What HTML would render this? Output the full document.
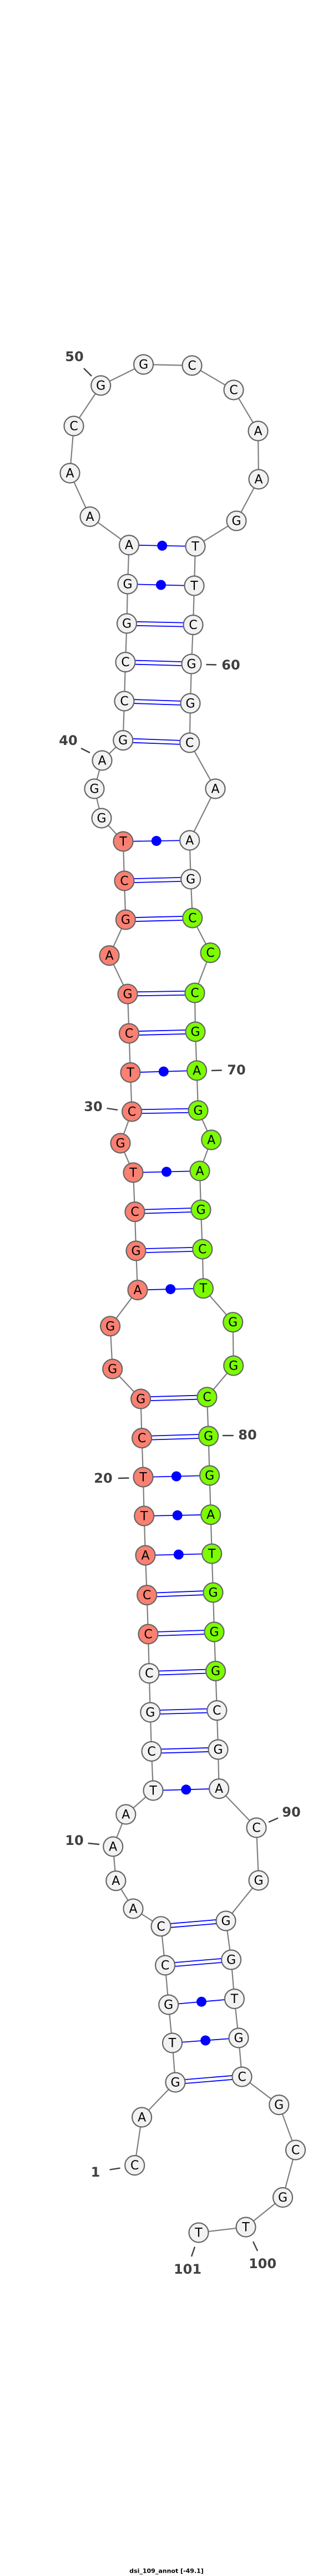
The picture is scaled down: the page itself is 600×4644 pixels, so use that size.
<!DOCTYPE html>
<html><head><meta charset="utf-8"><style>
html,body{margin:0;padding:0;background:#fff;}
svg{display:block;}
.b{stroke:#808080;stroke-width:2.2;fill:none}
.p{stroke:#0000ff;stroke-width:1.8;fill:none}
.d{fill:#0000ff}
.n circle{stroke:#666;stroke-width:2.2}
.w{fill:#f2f2f2}.r{fill:#fa8072}.g{fill:#7cfc00}
.n text{font-family:"DejaVu Sans","Liberation Sans",sans-serif;font-size:22px;fill:#000;text-anchor:middle;dominant-baseline:central}
.l{font-family:"DejaVu Sans","Liberation Sans",sans-serif;font-size:24px;font-weight:bold;fill:#404040;text-anchor:middle;dominant-baseline:central}
.t{stroke:#404040;stroke-width:2.4}
</style></head><body>
<svg width="600" height="4644" viewBox="0 0 600 4644" xmlns="http://www.w3.org/2000/svg">
<!-- backbone -->
<polyline class="b" points="242.7,3903.6 255.6,3817 316,3754 310.5,3683 303.7,3614 297.6,3543 290,3472.8 240,3441 208.8,3390.6 203.7,3329 226.8,3271 276,3228 273,3157.4 270.8,3087 268.8,3016.6 267,2946 264.7,2875.6 262,2804 259.7,2733 258,2663 255.6,2592.6 253.6,2522 202.7,2468 198.6,2390.8 248,2325.6 245,2255 243,2184.6 240,2114 217,2061 237.6,2004 235,1933.5 232.5,1863 230,1792 197,1722.6 226.4,1658 224,1588 222,1517 183,1475 170,1422 184,1371 221.7,1334.6 224,1264 226,1193.6 228.5,1124 230,1053 232.5,982.6 162,931.5 126,853 133,768 181.7,695 258.6,657 346,659 421,703 465,777 466,864 426,939 352,985 350,1056 348,1126.5 345,1197 343,1268 341.7,1339 388,1422 341.7,1515 343.7,1585 346.8,1655 379,1717.6 351,1790 352,1860 354.6,1930 357,2002 380.7,2055 360,2111 362,2181 364.7,2252 366.4,2322.7 419.7,2383.7 420.7,2462 373,2518.7 375.6,2589 377.6,2660 379.7,2730.7 381.7,2801 384,2871 386,2942 388.5,3012.5 390.8,3083.6 393,3154 394.6,3224.6 462,3295 466,3390 407,3463 416.6,3533 422.4,3603.5 430,3674 436,3744 502.7,3794.6 532.5,3876 509.5,3961.5 443,4015 358,4025"/>
<!-- double pairs -->
<g class="p">
<line x1="316" y1="3750.5" x2="436" y2="3740.5"/><line x1="316" y1="3757.5" x2="436" y2="3747.5"/>
<line x1="297.6" y1="3539.5" x2="416.6" y2="3529.5"/><line x1="297.6" y1="3546.5" x2="416.6" y2="3536.5"/>
<line x1="290" y1="3469.3" x2="407" y2="3459.5"/><line x1="290" y1="3476.3" x2="407" y2="3466.5"/>
<line x1="273" y1="3153.9" x2="393" y2="3150.5"/><line x1="273" y1="3160.9" x2="393" y2="3157.5"/>
<line x1="270.8" y1="3083.5" x2="390.8" y2="3080.1"/><line x1="270.8" y1="3090.5" x2="390.8" y2="3087.1"/>
<line x1="268.8" y1="3013.1" x2="388.5" y2="3009"/><line x1="268.8" y1="3020.1" x2="388.5" y2="3016"/>
<line x1="267" y1="2942.5" x2="386" y2="2938.5"/><line x1="267" y1="2949.5" x2="386" y2="2945.5"/>
<line x1="264.7" y1="2872.1" x2="384" y2="2867.5"/><line x1="264.7" y1="2879.1" x2="384" y2="2874.5"/>
<line x1="255.6" y1="2589.1" x2="375.6" y2="2585.5"/><line x1="255.6" y1="2596.1" x2="375.6" y2="2592.5"/>
<line x1="253.6" y1="2518.5" x2="373" y2="2515.2"/><line x1="253.6" y1="2525.5" x2="373" y2="2522.2"/>
<line x1="245" y1="2251.5" x2="364.7" y2="2248.5"/><line x1="245" y1="2258.5" x2="364.7" y2="2255.5"/>
<line x1="243" y1="2181.1" x2="362" y2="2177.5"/><line x1="243" y1="2188.1" x2="362" y2="2184.5"/>
<line x1="237.6" y1="2000.5" x2="357" y2="1998.5"/><line x1="237.6" y1="2007.5" x2="357" y2="2005.5"/>
<line x1="232.5" y1="1859.5" x2="352" y2="1856.5"/><line x1="232.5" y1="1866.5" x2="352" y2="1863.5"/>
<line x1="230" y1="1788.5" x2="351" y2="1786.5"/><line x1="230" y1="1795.5" x2="351" y2="1793.5"/>
<line x1="226.4" y1="1654.5" x2="346.8" y2="1651.5"/><line x1="226.4" y1="1661.5" x2="346.8" y2="1658.5"/>
<line x1="224" y1="1584.5" x2="343.7" y2="1581.5"/><line x1="224" y1="1591.5" x2="343.7" y2="1588.5"/>
<line x1="221.7" y1="1331.1" x2="341.7" y2="1335.5"/><line x1="221.7" y1="1338.1" x2="341.7" y2="1342.5"/>
<line x1="224" y1="1260.5" x2="343" y2="1264.5"/><line x1="224" y1="1267.5" x2="343" y2="1271.5"/>
<line x1="226" y1="1190.1" x2="345" y2="1193.5"/><line x1="226" y1="1197.1" x2="345" y2="1200.5"/>
<line x1="228.5" y1="1120.5" x2="348" y2="1123"/><line x1="228.5" y1="1127.5" x2="348" y2="1130"/>
<!-- single pairs -->
<line x1="310.5" y1="3683" x2="430" y2="3674"/>
<line x1="303.7" y1="3614" x2="422.4" y2="3603.5"/>
<line x1="276" y1="3228" x2="394.6" y2="3224.6"/>
<line x1="262" y1="2804" x2="381.7" y2="2801"/>
<line x1="259.7" y1="2733" x2="379.7" y2="2730.7"/>
<line x1="258" y1="2663" x2="377.6" y2="2660"/>
<line x1="248" y1="2325.6" x2="366.4" y2="2322.7"/>
<line x1="240" y1="2114" x2="360" y2="2111"/>
<line x1="235" y1="1933.5" x2="354.6" y2="1930"/>
<line x1="222" y1="1517" x2="341.7" y2="1515"/>
<line x1="230" y1="1053" x2="350" y2="1056"/>
<line x1="232.5" y1="982.6" x2="352" y2="985"/>
</g>
<g class="d">
<circle cx="370.2" cy="3678.5" r="9"/><circle cx="363" cy="3608.7" r="9"/><circle cx="335.3" cy="3226.3" r="9"/>
<circle cx="321.8" cy="2802.5" r="9"/><circle cx="319.7" cy="2731.8" r="9"/><circle cx="317.8" cy="2661.5" r="9"/>
<circle cx="307.2" cy="2324.1" r="9"/><circle cx="300" cy="2112.5" r="9"/><circle cx="294.8" cy="1931.7" r="9"/>
<circle cx="281.8" cy="1516" r="9"/><circle cx="290" cy="1054.5" r="9"/><circle cx="292.2" cy="983.8" r="9"/>
</g>
<!-- tick marks -->
<g class="t">
<line x1="151" y1="664" x2="165" y2="678"/>
<line x1="371.5" y1="1198" x2="390" y2="1198.5"/>
<line x1="146" y1="1349" x2="162" y2="1357"/>
<line x1="381" y1="1930" x2="399.7" y2="1929.5"/>
<line x1="192.5" y1="1998" x2="212" y2="2001"/>
<line x1="401" y1="2588" x2="420.7" y2="2588"/>
<line x1="213" y1="2665" x2="232.5" y2="2664.5"/>
<line x1="158.6" y1="3323" x2="179" y2="3325"/>
<line x1="484" y1="3285" x2="501" y2="3277.5"/>
<line x1="197.6" y1="3911.5" x2="216.6" y2="3908.6"/>
<line x1="456" y1="4041" x2="464" y2="4058"/>
<line x1="351" y1="4050.5" x2="345" y2="4068"/>
</g>
<g>
<text class="l" x="134" y="643">50</text>
<text class="l" x="416" y="1199">60</text>
<text class="l" x="123" y="1335">40</text>
<text class="l" x="426" y="1929">70</text>
<text class="l" x="168" y="1995">30</text>
<text class="l" x="446" y="2587">80</text>
<text class="l" x="186" y="2665">20</text>
<text class="l" x="134" y="3318">10</text>
<text class="l" x="525" y="3267">90</text>
<text class="l" x="172" y="3916">1</text>
<text class="l" x="473" y="4081">100</text>
<text class="l" x="338" y="4091">101</text>
</g>
<!-- nodes -->
<g class="n">
<circle class="w" cx="242.7" cy="3903.6" r="17.5"/><text x="242.7" y="3904.6">C</text>
<circle class="w" cx="255.6" cy="3817" r="17.5"/><text x="255.6" y="3818">A</text>
<circle class="w" cx="316" cy="3754" r="17.5"/><text x="316" y="3755">G</text>
<circle class="w" cx="310.5" cy="3683" r="17.5"/><text x="310.5" y="3684">T</text>
<circle class="w" cx="303.7" cy="3614" r="17.5"/><text x="303.7" y="3615">G</text>
<circle class="w" cx="297.6" cy="3543" r="17.5"/><text x="297.6" y="3544">C</text>
<circle class="w" cx="290" cy="3472.8" r="17.5"/><text x="290" y="3473.8">C</text>
<circle class="w" cx="240" cy="3441" r="17.5"/><text x="240" y="3442">A</text>
<circle class="w" cx="208.8" cy="3390.6" r="17.5"/><text x="208.8" y="3391.6">A</text>
<circle class="w" cx="203.7" cy="3329" r="17.5"/><text x="203.7" y="3330">A</text>
<circle class="w" cx="226.8" cy="3271" r="17.5"/><text x="226.8" y="3272">A</text>
<circle class="w" cx="276" cy="3228" r="17.5"/><text x="276" y="3229">T</text>
<circle class="w" cx="273" cy="3157.4" r="17.5"/><text x="273" y="3158.4">C</text>
<circle class="w" cx="270.8" cy="3087" r="17.5"/><text x="270.8" y="3088">G</text>
<circle class="w" cx="268.8" cy="3016.6" r="17.5"/><text x="268.8" y="3017.6">C</text>
<circle class="r" cx="267" cy="2946" r="17.5"/><text x="267" y="2947">C</text>
<circle class="r" cx="264.7" cy="2875.6" r="17.5"/><text x="264.7" y="2876.6">C</text>
<circle class="r" cx="262" cy="2804" r="17.5"/><text x="262" y="2805">A</text>
<circle class="r" cx="259.7" cy="2733" r="17.5"/><text x="259.7" y="2734">T</text>
<circle class="r" cx="258" cy="2663" r="17.5"/><text x="258" y="2664">T</text>
<circle class="r" cx="255.6" cy="2592.6" r="17.5"/><text x="255.6" y="2593.6">C</text>
<circle class="r" cx="253.6" cy="2522" r="17.5"/><text x="253.6" y="2523">G</text>
<circle class="r" cx="202.7" cy="2468" r="17.5"/><text x="202.7" y="2469">G</text>
<circle class="r" cx="198.6" cy="2390.8" r="17.5"/><text x="198.6" y="2391.8">G</text>
<circle class="r" cx="248" cy="2325.6" r="17.5"/><text x="248" y="2326.6">A</text>
<circle class="r" cx="245" cy="2255" r="17.5"/><text x="245" y="2256">G</text>
<circle class="r" cx="243" cy="2184.6" r="17.5"/><text x="243" y="2185.6">C</text>
<circle class="r" cx="240" cy="2114" r="17.5"/><text x="240" y="2115">T</text>
<circle class="r" cx="217" cy="2061" r="17.5"/><text x="217" y="2062">G</text>
<circle class="r" cx="237.6" cy="2004" r="17.5"/><text x="237.6" y="2005">C</text>
<circle class="r" cx="235" cy="1933.5" r="17.5"/><text x="235" y="1934.5">T</text>
<circle class="r" cx="232.5" cy="1863" r="17.5"/><text x="232.5" y="1864">C</text>
<circle class="r" cx="230" cy="1792" r="17.5"/><text x="230" y="1793">G</text>
<circle class="r" cx="197" cy="1722.6" r="17.5"/><text x="197" y="1723.6">A</text>
<circle class="r" cx="226.4" cy="1658" r="17.5"/><text x="226.4" y="1659">G</text>
<circle class="r" cx="224" cy="1588" r="17.5"/><text x="224" y="1589">C</text>
<circle class="r" cx="222" cy="1517" r="17.5"/><text x="222" y="1518">T</text>
<circle class="w" cx="183" cy="1475" r="17.5"/><text x="183" y="1476">G</text>
<circle class="w" cx="170" cy="1422" r="17.5"/><text x="170" y="1423">G</text>
<circle class="w" cx="184" cy="1371" r="17.5"/><text x="184" y="1372">A</text>
<circle class="w" cx="221.7" cy="1334.6" r="17.5"/><text x="221.7" y="1335.6">G</text>
<circle class="w" cx="224" cy="1264" r="17.5"/><text x="224" y="1265">C</text>
<circle class="w" cx="226" cy="1193.6" r="17.5"/><text x="226" y="1194.6">C</text>
<circle class="w" cx="228.5" cy="1124" r="17.5"/><text x="228.5" y="1125">G</text>
<circle class="w" cx="230" cy="1053" r="17.5"/><text x="230" y="1054">G</text>
<circle class="w" cx="232.5" cy="982.6" r="17.5"/><text x="232.5" y="983.6">A</text>
<circle class="w" cx="162" cy="931.5" r="17.5"/><text x="162" y="932.5">A</text>
<circle class="w" cx="126" cy="853" r="17.5"/><text x="126" y="854">A</text>
<circle class="w" cx="133" cy="768" r="17.5"/><text x="133" y="769">C</text>
<circle class="w" cx="181.7" cy="695" r="17.5"/><text x="181.7" y="696">G</text>
<circle class="w" cx="258.6" cy="657" r="17.5"/><text x="258.6" y="658">G</text>
<circle class="w" cx="346" cy="659" r="17.5"/><text x="346" y="660">C</text>
<circle class="w" cx="421" cy="703" r="17.5"/><text x="421" y="704">C</text>
<circle class="w" cx="465" cy="777" r="17.5"/><text x="465" y="778">A</text>
<circle class="w" cx="466" cy="864" r="17.5"/><text x="466" y="865">A</text>
<circle class="w" cx="426" cy="939" r="17.5"/><text x="426" y="940">G</text>
<circle class="w" cx="352" cy="985" r="17.5"/><text x="352" y="986">T</text>
<circle class="w" cx="350" cy="1056" r="17.5"/><text x="350" y="1057">T</text>
<circle class="w" cx="348" cy="1126.5" r="17.5"/><text x="348" y="1127.5">C</text>
<circle class="w" cx="345" cy="1197" r="17.5"/><text x="345" y="1198">G</text>
<circle class="w" cx="343" cy="1268" r="17.5"/><text x="343" y="1269">G</text>
<circle class="w" cx="341.7" cy="1339" r="17.5"/><text x="341.7" y="1340">C</text>
<circle class="w" cx="388" cy="1422" r="17.5"/><text x="388" y="1423">A</text>
<circle class="w" cx="341.7" cy="1515" r="17.5"/><text x="341.7" y="1516">A</text>
<circle class="w" cx="343.7" cy="1585" r="17.5"/><text x="343.7" y="1586">G</text>
<circle class="g" cx="346.8" cy="1655" r="17.5"/><text x="346.8" y="1656">C</text>
<circle class="g" cx="379" cy="1717.6" r="17.5"/><text x="379" y="1718.6">C</text>
<circle class="g" cx="351" cy="1790" r="17.5"/><text x="351" y="1791">C</text>
<circle class="g" cx="352" cy="1860" r="17.5"/><text x="352" y="1861">G</text>
<circle class="g" cx="354.6" cy="1930" r="17.5"/><text x="354.6" y="1931">A</text>
<circle class="g" cx="357" cy="2002" r="17.5"/><text x="357" y="2003">G</text>
<circle class="g" cx="380.7" cy="2055" r="17.5"/><text x="380.7" y="2056">A</text>
<circle class="g" cx="360" cy="2111" r="17.5"/><text x="360" y="2112">A</text>
<circle class="g" cx="362" cy="2181" r="17.5"/><text x="362" y="2182">G</text>
<circle class="g" cx="364.7" cy="2252" r="17.5"/><text x="364.7" y="2253">C</text>
<circle class="g" cx="366.4" cy="2322.7" r="17.5"/><text x="366.4" y="2323.7">T</text>
<circle class="g" cx="419.7" cy="2383.7" r="17.5"/><text x="419.7" y="2384.7">G</text>
<circle class="g" cx="420.7" cy="2462" r="17.5"/><text x="420.7" y="2463">G</text>
<circle class="g" cx="373" cy="2518.7" r="17.5"/><text x="373" y="2519.7">C</text>
<circle class="g" cx="375.6" cy="2589" r="17.5"/><text x="375.6" y="2590">G</text>
<circle class="g" cx="377.6" cy="2660" r="17.5"/><text x="377.6" y="2661">G</text>
<circle class="g" cx="379.7" cy="2730.7" r="17.5"/><text x="379.7" y="2731.7">A</text>
<circle class="g" cx="381.7" cy="2801" r="17.5"/><text x="381.7" y="2802">T</text>
<circle class="g" cx="384" cy="2871" r="17.5"/><text x="384" y="2872">G</text>
<circle class="g" cx="386" cy="2942" r="17.5"/><text x="386" y="2943">G</text>
<circle class="g" cx="388.5" cy="3012.5" r="17.5"/><text x="388.5" y="3013.5">G</text>
<circle class="w" cx="390.8" cy="3083.6" r="17.5"/><text x="390.8" y="3084.6">C</text>
<circle class="w" cx="393" cy="3154" r="17.5"/><text x="393" y="3155">G</text>
<circle class="w" cx="394.6" cy="3224.6" r="17.5"/><text x="394.6" y="3225.6">A</text>
<circle class="w" cx="462" cy="3295" r="17.5"/><text x="462" y="3296">C</text>
<circle class="w" cx="466" cy="3390" r="17.5"/><text x="466" y="3391">G</text>
<circle class="w" cx="407" cy="3463" r="17.5"/><text x="407" y="3464">G</text>
<circle class="w" cx="416.6" cy="3533" r="17.5"/><text x="416.6" y="3534">G</text>
<circle class="w" cx="422.4" cy="3603.5" r="17.5"/><text x="422.4" y="3604.5">T</text>
<circle class="w" cx="430" cy="3674" r="17.5"/><text x="430" y="3675">G</text>
<circle class="w" cx="436" cy="3744" r="17.5"/><text x="436" y="3745">C</text>
<circle class="w" cx="502.7" cy="3794.6" r="17.5"/><text x="502.7" y="3795.6">G</text>
<circle class="w" cx="532.5" cy="3876" r="17.5"/><text x="532.5" y="3877">C</text>
<circle class="w" cx="509.5" cy="3961.5" r="17.5"/><text x="509.5" y="3962.5">G</text>
<circle class="w" cx="443" cy="4015" r="17.5"/><text x="443" y="4016">T</text>
<circle class="w" cx="358" cy="4025" r="17.5"/><text x="358" y="4026">T</text>
</g>
<text x="300" y="4635" style="font-family:'DejaVu Sans','Liberation Sans',sans-serif;font-size:11px;font-weight:bold;fill:#000;text-anchor:middle;dominant-baseline:central">dsi_109_annot [-49.1]</text>
</svg>
</body></html>
